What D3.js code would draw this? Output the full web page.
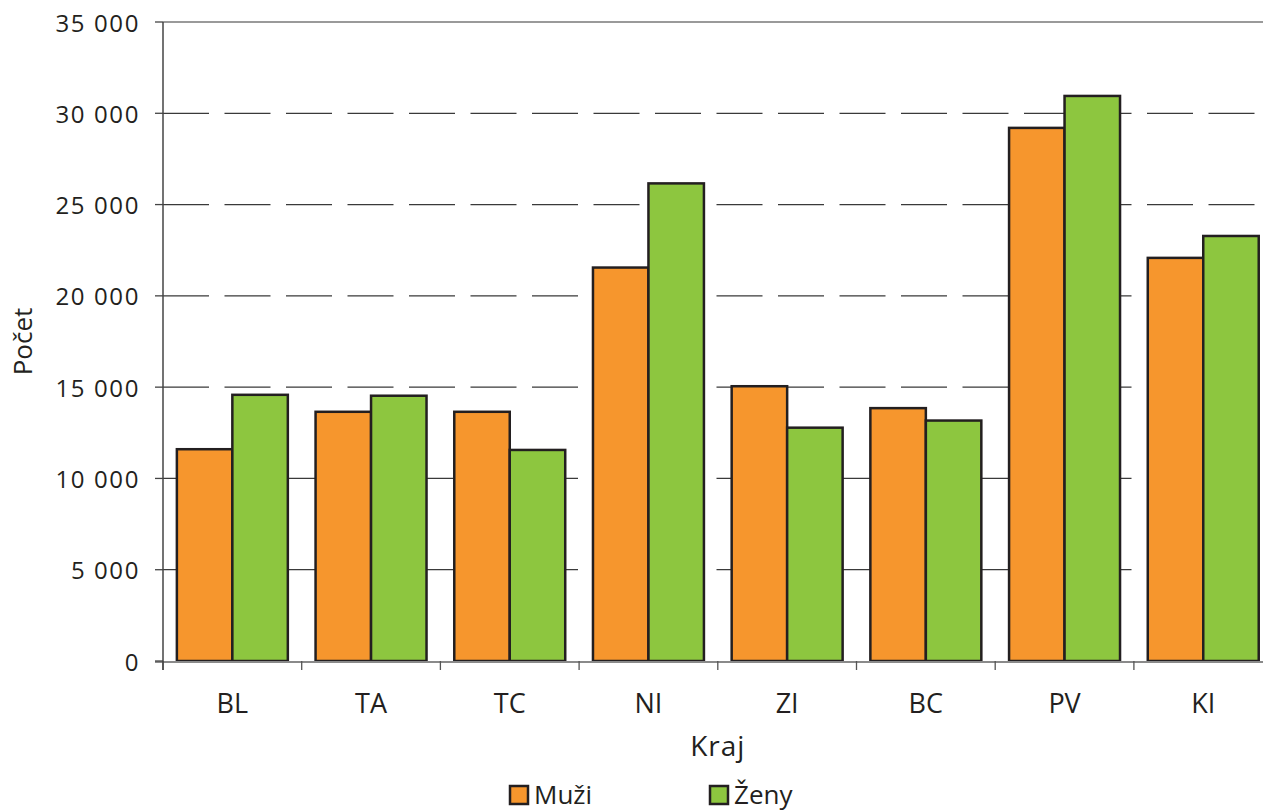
<!DOCTYPE html>
<html>
<head>
<meta charset="utf-8">
<script src="https://cdn.jsdelivr.net/npm/d3@7"></script>
<style>
  html, body { margin: 0; padding: 0; background: #fff; }
  svg { display: block; }
  text { font-family: "Open Sans", sans-serif; fill: #231f20; }
</style>
</head>
<body>
<svg id="chart" width="1263" height="811"></svg>
<script>
const categories = ["BL", "TA", "TC", "NI", "ZI", "BC", "PV", "KI"];
const seriesNames = ["Muži", "Ženy"];
const muzi = [11600, 13650, 13650, 21550, 15050, 13850, 29200, 22080];
const zeny = [14580, 14530, 11560, 26160, 12780, 13170, 30950, 23280];
const yTicks = [0, 5000, 10000, 15000, 20000, 25000, 30000, 35000];
const colors = ["#f6962d", "#8dc63f"];
const xTitle = "Kraj";
const yTitle = "Počet";

(function () {
const svg = d3.select("#chart");
const mLeft = 163, mRight = 1272.6, mTop = 22, mBottom = 661;

const x0 = d3.scaleBand().domain(categories).range([mLeft, mRight]).padding(0);
const x1 = d3.scaleBand().domain(seriesNames).range([0, x0.bandwidth()])
  .paddingInner(0).paddingOuter(0.25);
const y = d3.scaleLinear().domain([0, 35000]).range([mBottom, mTop]);

const fmt = v => d3.format(",")(v).replace(/,/g, " ");

// gridlines
svg.append("g").selectAll("line")
  .data(yTicks.filter(t => t > 0 && t < 35000))
  .join("line")
  .attr("x1", mLeft).attr("x2", mRight)
  .attr("y1", d => y(d)).attr("y2", d => y(d))
  .attr("stroke", "#3a3a3a").attr("stroke-width", 1.2)
  .attr("stroke-dasharray", "46,15.5");

// top border line
svg.append("line")
  .attr("x1", mLeft).attr("x2", mRight)
  .attr("y1", y(35000)).attr("y2", y(35000))
  .attr("stroke", "#9a9a9a").attr("stroke-width", 2);

// bars
const data = categories.map((c, i) => ({ c, vals: [muzi[i], zeny[i]] }));
const groups = svg.append("g").selectAll("g")
  .data(data).join("g")
  .attr("transform", d => `translate(${x0(d.c)},0)`);
groups.selectAll("rect")
  .data(d => d.vals.map((v, j) => ({ s: seriesNames[j], v, j })))
  .join("rect")
  .attr("x", d => x1(d.s))
  .attr("width", x1.bandwidth())
  .attr("y", d => y(d.v))
  .attr("height", d => y(0) - y(d.v))
  .attr("fill", d => colors[d.j])
  .attr("stroke", "#231f20")
  .attr("stroke-width", 2.5);

// x axis line
svg.append("line")
  .attr("x1", mLeft - 8).attr("x2", mRight)
  .attr("y1", mBottom + 1).attr("y2", mBottom + 1)
  .attr("stroke", "#8a8a8a").attr("stroke-width", 2);

// x axis ticks at category boundaries
const bounds = categories.map(c => x0(c)).concat([mRight]);
svg.append("g").selectAll("line")
  .data(bounds).join("line")
  .attr("x1", d => d).attr("x2", d => d)
  .attr("y1", mBottom).attr("y2", mBottom + 9)
  .attr("stroke", "#555").attr("stroke-width", 1.3);

// y axis line
svg.append("line")
  .attr("x1", mLeft).attr("x2", mLeft)
  .attr("y1", mTop).attr("y2", mBottom + 9)
  .attr("stroke", "#444").attr("stroke-width", 1.5);

// y ticks
svg.append("g").selectAll("line")
  .data(yTicks).join("line")
  .attr("x1", mLeft - 8).attr("x2", mLeft)
  .attr("y1", d => y(d)).attr("y2", d => y(d))
  .attr("stroke", "#444").attr("stroke-width", 1.3);

svg.append("g").selectAll("text")
  .data(yTicks).join("text")
  .attr("x", 140).attr("y", d => y(d))
  .attr("text-anchor", "end")
  .attr("dominant-baseline", "central")
  .attr("font-size", 24)
  .attr("letter-spacing", 1.6)
  .text(d => fmt(d));

// x labels
svg.append("g").selectAll("text")
  .data(categories).join("text")
  .attr("x", d => x0(d) + x0.bandwidth() / 2)
  .attr("y", 713)
  .attr("text-anchor", "middle")
  .attr("font-size", 27)
  .text(d => d);

// axis titles
svg.append("text")
  .attr("x", (mLeft + mRight) / 2).attr("y", 756)
  .attr("text-anchor", "middle")
  .attr("font-size", 28)
  .attr("letter-spacing", 1)
  .text(xTitle);

svg.append("text")
  .attr("transform", `translate(32, ${(mTop + mBottom) / 2}) rotate(-90)`)
  .attr("text-anchor", "middle")
  .attr("font-size", 26)
  .text(yTitle);

// legend
const legendX = [510, 710];
const lg = svg.append("g").selectAll("g")
  .data(seriesNames).join("g")
  .attr("transform", (d, i) => `translate(${legendX[i]}, 786)`);
lg.append("rect")
  .attr("width", 18).attr("height", 18)
  .attr("fill", (d, i) => colors[i])
  .attr("stroke", "#231f20").attr("stroke-width", 2.5);
lg.append("text")
  .attr("x", 24).attr("y", 18)
  .attr("font-size", 26)
  .text(d => d);
})();
</script>
</body>
</html>
